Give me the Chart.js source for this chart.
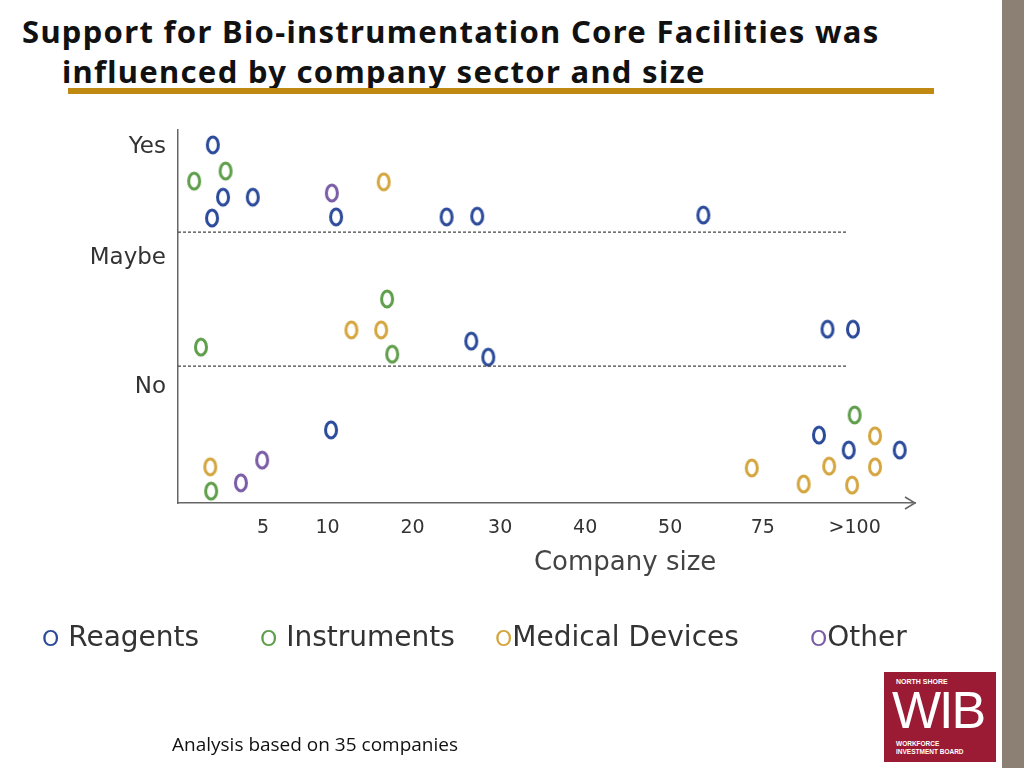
<!DOCTYPE html>
<html><head><meta charset="utf-8">
<script src="https://cdn.jsdelivr.net/npm/chart.js@4/dist/chart.umd.min.js"></script>
<style>
body{margin:0;width:1024px;height:768px;background:#fff;position:relative;overflow:hidden;font-family:"Open Sans",sans-serif}
#t1,#t2{position:absolute;font-weight:bold;font-size:31px;letter-spacing:1.3px;color:#111;white-space:nowrap;font-family:"Noto Sans",sans-serif}
#t1{left:22px;top:10px}#t2{left:62px;top:50px}
#ul{position:absolute;left:68px;top:88px;width:866px;height:6px;background:#c08a12}
#bar{position:absolute;left:1002px;top:0;width:22px;height:768px;background:#8c7f74}
#logo{position:absolute;left:884px;top:672px;width:112px;height:90px;background:#9b1b34;color:#fff;font-family:"Liberation Sans",sans-serif}
#note{position:absolute;left:172px;top:731px;font-size:19px;color:#111}
.lg{position:absolute;top:620px;font-family:"DejaVu Sans",sans-serif;font-size:28px;color:#333;white-space:nowrap}
.lg span{font-size:22px}
canvas{position:absolute;left:0;top:0}
</style></head><body>
<div id="t1">Support for Bio-instrumentation Core Facilities was</div>
<div id="t2">influenced by company sector and size</div>
<div id="ul"></div><div id="bar"></div>
<div id="c" style="position:absolute;left:0;top:0;width:1024px;height:768px"><canvas id="ch"></canvas></div>
<div class="lg" style="left:42px"><span style="color:#2b4a9a">O</span> Reagents</div>
<div class="lg" style="left:260px"><span style="color:#5f9e4a">O</span> Instruments</div>
<div class="lg" style="left:495px"><span style="color:#d4a640">O</span>Medical Devices</div>
<div class="lg" style="left:810px"><span style="color:#7a5ca6">O</span>Other</div>
<div id="note">Analysis based on 35 companies</div>
<div id="logo">
<div style="position:absolute;left:12px;top:6px;font-size:7px;font-weight:bold">NORTH SHORE</div>
<div style="position:absolute;left:8px;top:10px;font-size:52px;line-height:56px;letter-spacing:-2px">WIB</div>
<div style="position:absolute;left:12px;top:68px;font-size:6.5px;font-weight:bold;line-height:8px">WORKFORCE<br>INVESTMENT BOARD</div>
</div>
<script>
const xTickPos=[1.0,1.76,2.76,3.79,4.79,5.79,6.88,7.96];
const xTickLabels=["5","10","20","30","40","50","75",">100"];
const yTickPos=[95.4,65.7,31];
const yTickLabels=["Yes","Maybe","No"];
const dividers=[72.6,36.7];
const reagents=[[0.41,96],[0.53,82],[0.88,82],[0.40,76.4],[1.86,76.7],[3.16,76.7],[3.52,76.9],[6.18,77.2],[3.45,43.4],[3.65,39.1],[7.64,46.6],[7.94,46.6],[1.80,19.6],[7.54,18.2],[7.89,14.2],[8.49,14.2]];
const instruments=[[0.19,86.3],[0.56,89],[2.46,54.7],[0.27,41.8],[2.52,39.9],[7.96,23.6],[0.39,3.2]];
const medical=[[2.42,86.1],[2.04,46.4],[2.39,46.4],[0.38,9.7],[6.75,9.4],[7.66,9.9],[8.20,18],[8.20,9.7],[7.36,5.1],[7.93,4.8]];
const other=[[1.81,83.1],[0.99,11.5],[0.74,5.4]];
function ring(c){const cv=document.createElement('canvas');cv.width=16;cv.height=22;const g=cv.getContext('2d');g.strokeStyle=c;g.lineWidth=3;g.beginPath();g.ellipse(8,11,5.5,8,0,0,2*Math.PI);g.stroke();return cv;}
function ds(d,c){return{data:d.map(p=>({x:p[0],y:p[1]})),pointStyle:ring(c),pointRadius:8,showLine:false};}
const deco={id:'deco',afterDraw(ch){const g=ch.ctx,x=ch.scales.x,y=ch.scales.y;g.save();g.strokeStyle='#444';g.lineWidth=1.2;g.setLineDash([3,2]);
dividers.forEach(v=>{const py=y.getPixelForValue(v);g.beginPath();g.moveTo(x.left,py);g.lineTo(x.getPixelForValue(7.88),py);g.stroke();});
g.setLineDash([]);g.strokeStyle='#666';g.lineWidth=1.5;const py=y.bottom;g.beginPath();g.moveTo(x.right-10,py-6);g.lineTo(x.right,py);g.lineTo(x.right-10,py+6);g.stroke();
g.fillStyle='#444';g.font='26px "DejaVu Sans"';g.textAlign='center';g.fillText('Company size',(x.getPixelForValue(5.26)),570);g.restore();}};
new Chart(document.getElementById('ch'),{type:'scatter',
data:{datasets:[ds(reagents,'#2b4a9a'),ds(instruments,'#5f9e4a'),ds(medical,'#d4a640'),ds(other,'#7a5ca6')]},
options:{responsive:true,maintainAspectRatio:false,animation:false,events:[],
layout:{padding:{left:78,right:109,top:130,bottom:185}},
plugins:{legend:{display:false},tooltip:{enabled:false}},
scales:{
x:{min:0,max:8.67,afterFit:s=>{s.height=80},afterBuildTicks:s=>{s.ticks=xTickPos.map(v=>({value:v}))},
grid:{display:false,drawTicks:false},border:{color:'#666',width:1.5},
ticks:{padding:14,color:'#333',font:{family:'DejaVu Sans',size:19},callback:(v,i)=>xTickLabels[i]}},
y:{min:0,max:100,afterFit:s=>{s.width=100},afterBuildTicks:s=>{s.ticks=yTickPos.map(v=>({value:v}))},
grid:{display:false,drawTicks:false},border:{color:'#666',width:1.5},
ticks:{padding:12,color:'#333',font:{family:'DejaVu Sans',size:23},callback:(v,i)=>yTickLabels[i]}}}},
plugins:[deco]});
</script></body></html>
